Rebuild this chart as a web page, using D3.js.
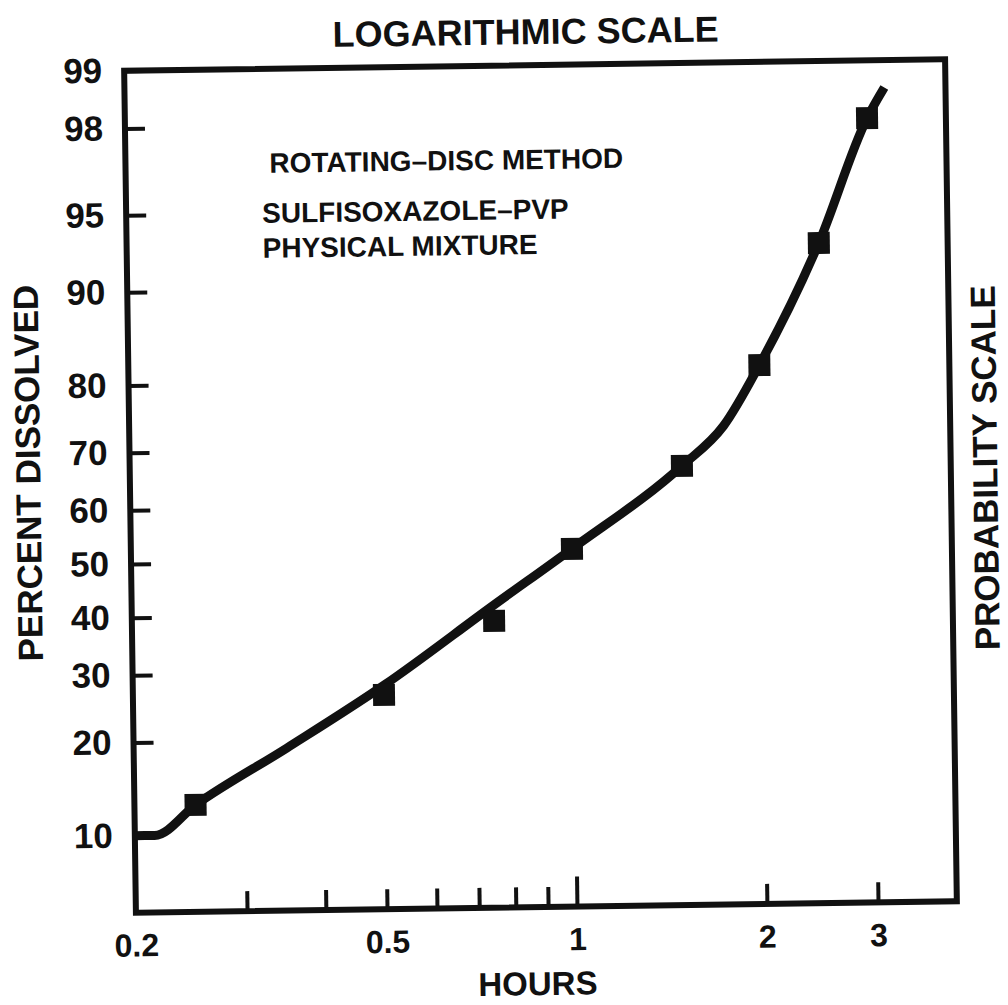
<!DOCTYPE html>
<html>
<head>
<meta charset="utf-8">
<script src="https://cdn.jsdelivr.net/npm/d3@7"></script>
<style>
  body { margin: 0; background: #fff; }
  svg { display: block; }
  text { font-family: "Liberation Sans", Arial, Helvetica, sans-serif; font-weight: bold; fill: #111; }
</style>
</head>
<body>
<div id="chart"></div>
<script>
(function () {

  // Measured points (hours, percent dissolved)
  const obsHours = [0.25, 0.5, 0.75, 1.0, 1.5, 2.0, 2.5, 3.0]
  const obsPercent = [12.7, 26.3, 38.5, 51.7, 66.5, 81.5, 92.9, 98.0]

  // Hand drawn fit line
  const fitHours = [0.2, 0.215, 0.25, 0.35, 0.5, 0.75, 1.0, 1.5, 1.75, 2.0, 2.5, 3.0, 3.2]
  const fitPercent = [10, 10, 12.7, 19, 27.8, 41.4, 51.7, 66.5, 73, 81.5, 92.9, 98, 98.6]

  // Ticks
  const xTicks = [0.2, 0.3, 0.4, 0.5, 0.6, 0.7, 0.8, 0.9, 1, 2, 3]
  const xLabels = [0.2, 0.5, 1, 2, 3]
  const yTicks = [10, 20, 30, 40, 50, 60, 70, 80, 90, 95, 98, 99]

  const notes = ["ROTATING\u2013DISC METHOD", "SULFISOXAZOLE\u2013PVP", "PHYSICAL MIXTURE"]

  // inverse normal cdf (Acklam) - probability paper
  function probit(p) {
    const a = [-39.69683028665376, 220.9460984245205, -275.9285104469687, 138.3577518672690, -30.66479806614716, 2.506628277459239]
    const b = [-54.47609879822406, 161.5858368580409, -155.6989798598866, 66.80131188771972, -13.28068155288572]
    const c = [-0.007784894002430293, -0.3223964580411365, -2.400758277161838, -2.549732539343734, 4.374664141464968, 2.938163982698783]
    const e = [0.007784695709041462, 0.3224671290700398, 2.445134137142996, 3.754408661907416]
    const plow = 0.02425
    if (p < plow) {
      const q = Math.sqrt(-2 * Math.log(p))
      return (((((c[0]*q+c[1])*q+c[2])*q+c[3])*q+c[4])*q+c[5]) / ((((e[0]*q+e[1])*q+e[2])*q+e[3])*q+1)
    }
    if (p > 1 - plow) {
      const q = Math.sqrt(-2 * Math.log(1 - p))
      return -(((((c[0]*q+c[1])*q+c[2])*q+c[3])*q+c[4])*q+c[5]) / ((((e[0]*q+e[1])*q+e[2])*q+e[3])*q+1)
    }
    const q = p - 0.5, r = q * q
    return (((((a[0]*r+a[1])*r+a[2])*r+a[3])*r+a[4])*r+a[5])*q / (((((b[0]*r+b[1])*r+b[2])*r+b[3])*r+b[4])*r+1)
  }

  // Margin convention
  const margin = { top: 65, right: 57, bottom: 98, left: 130 }
  const width = 1008 - margin.left - margin.right
  const height = 1005 - margin.top - margin.bottom

  const svg = d3.select("#chart").append("svg")
      .attr("width", 1008)
      .attr("height", 1005)

  svg.append("rect").attr("width", 1008).attr("height", 1005).attr("fill", "#fff")

  // the scan sits a little crooked on the page
  const page = svg.append("g").attr("transform", "rotate(-0.8, 541, 486)")

  const g = page.append("g")
      .attr("transform", "translate(" + margin.left + "," + margin.top + ")")

  const x = d3.scaleLog()
    .domain([0.2, 4])
    .range([0, width])

  const z = d3.scaleLinear()
    .domain([probit(0.05), probit(0.99)])
    .range([height, 0])

  const y = p => z(probit(p / 100))

  // x axis, ticks pointing in
  const xAxis = g.append("g")
    .attr("transform", "translate(0," + height + ")")
    .call(d3.axisBottom(x)
      .tickValues(xTicks)
      .tickSize(-20)
      .tickPadding(21)
      .tickFormat(d => xLabels.includes(d) ? String(d) : ""))
  xAxis.attr("font-size", 32).attr("color", "#111")
  xAxis.select(".domain").remove()
  xAxis.selectAll(".tick line")
    .attr("stroke-width", 4)
    .attr("y2", d => d === 1 ? -30 : (d === 0.2 ? 0 : -20))

  // y axis
  const yAxis = g.append("g")
    .call(d3.axisLeft(z)
      .tickValues(yTicks.map(p => probit(p / 100)))
      .tickSize(-20)
      .tickPadding(22)
      .tickFormat((d, i) => yTicks[i]))
  yAxis.attr("font-size", 35).attr("color", "#111")
  yAxis.select(".domain").remove()
  yAxis.selectAll(".tick line").attr("stroke-width", 4)

  // frame
  g.append("rect")
    .attr("width", width)
    .attr("height", height)
    .attr("fill", "none")
    .attr("stroke", "#111")
    .attr("stroke-width", 6)

  // fit line
  const fit = fitHours.map((h, i) => [h, fitPercent[i]])
  const line = d3.line()
    .x(d => x(d[0]))
    .y(d => y(d[1]))
    .curve(d3.curveMonotoneX)

  g.append("path")
    .datum(fit)
    .attr("d", line)
    .attr("fill", "none")
    .attr("stroke", "#111")
    .attr("stroke-width", 9)

  // squares
  const size = 22
  g.selectAll(".pt")
    .data(obsHours.map((h, i) => [h, obsPercent[i]]))
    .join("rect")
    .attr("class", "pt")
    .attr("x", d => x(d[0]) - size / 2)
    .attr("y", d => y(d[1]) - size / 2)
    .attr("width", size)
    .attr("height", size)
    .attr("fill", "#111")

  // annotation
  g.selectAll(".note")
    .data(notes)
    .join("text")
    .attr("class", "note")
    .attr("x", (d, i) => i === 0 ? 144 : 136)
    .attr("y", (d, i) => [104, 154, 189][i])
    .attr("font-size", 28)
    .text(d => d)

  // titles
  page.append("text")
    .attr("x", 532)
    .attr("y", 44)
    .attr("text-anchor", "middle")
    .attr("font-size", 36)
    .text("LOGARITHMIC SCALE")

  page.append("text")
    .attr("x", 531)
    .attr("y", 995)
    .attr("text-anchor", "middle")
    .attr("font-size", 33)
    .text("HOURS")

  page.append("text")
    .attr("transform", "translate(28,466) rotate(-90)")
    .attr("text-anchor", "middle")
    .attr("dominant-baseline", "central")
    .attr("font-size", 35)
    .text("PERCENT DISSOLVED")

  page.append("text")
    .attr("transform", "translate(985,474) rotate(-90)")
    .attr("text-anchor", "middle")
    .attr("dominant-baseline", "central")
    .attr("font-size", 35)
    .text("PROBABILITY SCALE")

})();
</script>
</body>
</html>
